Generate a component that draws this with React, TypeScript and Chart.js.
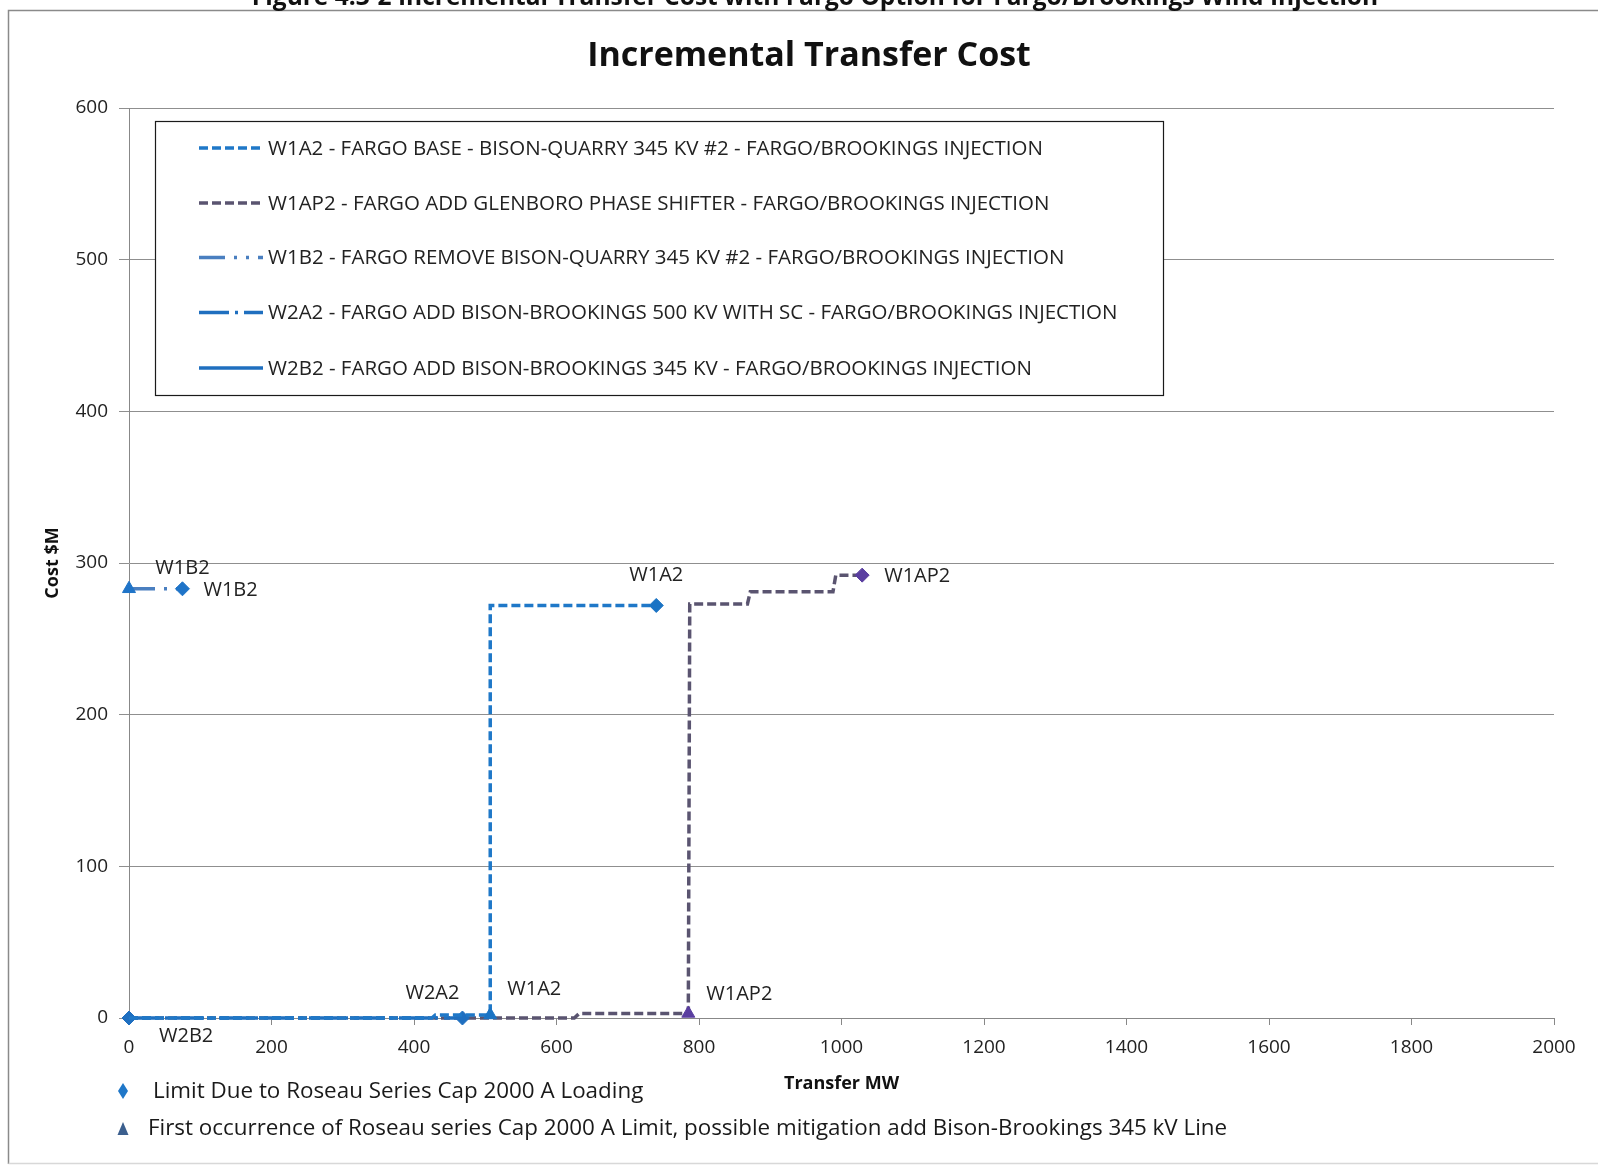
import React, { useEffect, useRef } from "react";
import { Chart, registerables } from "chart.js";

Chart.register(...registerables);

// ---------- data ----------
const xTickValues = [0, 200, 400, 600, 800, 1000, 1200, 1400, 1600, 1800, 2000];
const yTickValues = [0, 100, 200, 300, 400, 500, 600];

const w1a2X = [0, 425, 430, 507, 507, 740];
const w1a2Y = [0, 0, 2, 2, 272, 272];
const w1a2Marks = ["", "", "", "triangle", "", "diamond"];

const w1ap2X = [0, 625, 632, 785, 787, 868, 872, 988, 992, 1029];
const w1ap2Y = [0, 0, 3, 3, 273, 273, 281, 281, 292, 292];
const w1ap2Marks = ["", "", "", "triangle", "", "", "", "", "", "diamond"];

const w1b2X = [0, 75];
const w1b2Y = [283, 283];
const w1b2Marks = ["triangle", "diamond"];

const w2a2X = [0, 468];
const w2a2Y = [0, 0];
const w2a2Marks = ["", "diamond"];

const w2b2X = [0];
const w2b2Y = [0];
const w2b2Marks = ["diamond"];

const seriesNames = [
  "W1A2 - FARGO BASE - BISON-QUARRY 345 KV #2 - FARGO/BROOKINGS INJECTION",
  "W1AP2 - FARGO ADD GLENBORO PHASE SHIFTER - FARGO/BROOKINGS INJECTION",
  "W1B2 - FARGO REMOVE BISON-QUARRY 345 KV #2 - FARGO/BROOKINGS INJECTION",
  "W2A2 - FARGO ADD BISON-BROOKINGS 500 KV WITH SC - FARGO/BROOKINGS INJECTION",
  "W2B2 - FARGO ADD BISON-BROOKINGS 345 KV - FARGO/BROOKINGS INJECTION",
];

// point labels: text, data x, data y, pixel offset, alignment
const pointLabels = [
  { text: "W1B2", x: 75, y: 283, dx: 0, dy: -20, align: "center" },
  { text: "W1B2", x: 75, y: 283, dx: 21, dy: 2, align: "left" },
  { text: "W2B2", x: 0, y: 0, dx: 30, dy: 18, align: "left" },
  { text: "W2A2", x: 468, y: 0, dx: -30, dy: -25, align: "center" },
  { text: "W1A2", x: 507, y: 0, dx: 17, dy: -29, align: "left" },
  { text: "W1A2", x: 740, y: 272, dx: 0, dy: -30, align: "center" },
  { text: "W1AP2", x: 785, y: 0, dx: 18, dy: -24, align: "left" },
  { text: "W1AP2", x: 1029, y: 292, dx: 22, dy: 1, align: "left" },
];

const headerText =
  "Figure 4.3-2 Incremental Transfer Cost with Fargo Option for Fargo/Brookings Wind Injection";
const titleText = "Incremental Transfer Cost";
const xTitle = "Transfer MW";
const yTitle = "Cost $M";
const footnote1 = "Limit Due to Roseau Series Cap 2000 A Loading";
const footnote2 =
  "First occurrence of Roseau series Cap 2000 A Limit, possible mitigation add Bison-Brookings 345 kV Line";

// ---------- styles ----------
const FONT = "'Open Sans', 'DejaVu Sans', sans-serif";
const lineColors = ["#1f78c8", "#5a5470", "#4a7fc0", "#1f6fbf", "#1f6fbf"];
const markColors = ["#1a73c4", "#5a3ea0", "#1f74c8", "#1f6fc0", "#1f6fc0"];
const drawOrder = [0, 2, 0, 1, 0];
const dashes: number[][] = [
  [9, 4],
  [9, 4],
  [26, 9, 3, 9, 3, 9],
  [30, 6, 3, 6],
  [],
];

function build(xs: number[], ys: number[], marks: string[], i: number) {
  return {
    label: seriesNames[i],
    data: xs.map((x, k) => ({ x, y: ys[k] })),
    showLine: true,
    clip: false,
    order: drawOrder[i],
    borderColor: lineColors[i],
    borderWidth: 3.5,
    borderDash: dashes[i],
    pointStyle: marks.map((m) => (m === "diamond" ? "rectRot" : m === "triangle" ? "triangle" : "circle")),
    pointRadius: marks.map((m) => (m === "diamond" ? 7 : m === "triangle" ? 7.5 : 0)),
    pointBackgroundColor: markColors[i],
    pointBorderColor: markColors[i],
    pointBorderWidth: 1,
    pointHoverRadius: 0,
    tension: 0,
  };
}

const decorPlugin = {
  id: "decor",
  beforeDraw(chart: any) {
    const ctx = chart.ctx;
    ctx.save();
    ctx.fillStyle = "#ffffff";
    ctx.fillRect(0, 0, chart.width, chart.height);
    ctx.restore();
  },
  afterDraw(chart: any) {
    const ctx: CanvasRenderingContext2D = chart.ctx;
    const xs = chart.scales.x;
    const ys = chart.scales.y;
    const area = chart.chartArea;
    ctx.save();

    // frame
    ctx.strokeStyle = "#8a8a8a";
    ctx.lineWidth = 1.5;
    ctx.beginPath();
    ctx.moveTo(8.5, 1164);
    ctx.lineTo(8.5, 10.5);
    ctx.lineTo(1598, 10.5);
    ctx.stroke();
    ctx.strokeStyle = "#d8d8d8";
    ctx.beginPath();
    ctx.moveTo(8.5, 1163.5);
    ctx.lineTo(1598, 1163.5);
    ctx.stroke();

    // cut-off header
    ctx.fillStyle = "#111";
    ctx.font = `bold 24.5px ${FONT}`;
    ctx.textAlign = "center";
    ctx.textBaseline = "alphabetic";
    ctx.fillText(headerText, 815, 5);

    // title
    ctx.font = `bold 34px ${FONT}`;
    ctx.textBaseline = "middle";
    ctx.fillText(titleText, 809, 56);

    // axis titles
    ctx.font = `bold 18px ${FONT}`;
    ctx.fillText(xTitle, (area.left + area.right) / 2, 1084);
    ctx.save();
    ctx.translate(53, (area.top + area.bottom) / 2);
    ctx.rotate(-Math.PI / 2);
    ctx.fillText(yTitle, 0, 0);
    ctx.restore();

    // legend box
    const lx = 155, ly = 121, lw = 1008, lh = 274;
    ctx.fillStyle = "#ffffff";
    ctx.fillRect(lx, ly, lw, lh);
    ctx.strokeStyle = "#1a1a1a";
    ctx.lineWidth = 1.2;
    ctx.strokeRect(lx + 0.5, ly + 0.5, lw, lh);
    const rows = [148, 203, 257.5, 312.5, 368];
    ctx.font = `20.5px ${FONT}`;
    ctx.textAlign = "left";
    for (let i = 0; i < 5; i++) {
      const yy = rows[i];
      ctx.strokeStyle = lineColors[i];
      ctx.lineWidth = 3.5;
      ctx.setLineDash(dashes[i]);
      ctx.beginPath();
      ctx.moveTo(199, yy);
      ctx.lineTo(263, yy);
      ctx.stroke();
      ctx.setLineDash([]);
      ctx.fillStyle = "#222";
      ctx.fillText(seriesNames[i], 268, yy + 1);
    }

    // point labels
    ctx.font = `20px ${FONT}`;
    ctx.fillStyle = "#222";
    for (const p of pointLabels) {
      ctx.textAlign = p.align as CanvasTextAlign;
      ctx.fillText(p.text, xs.getPixelForValue(p.x) + p.dx, ys.getPixelForValue(p.y) + p.dy);
    }

    // footnotes
    ctx.fillStyle = "#1f77c8";
    ctx.beginPath();
    ctx.moveTo(123, 1083);
    ctx.lineTo(128, 1091);
    ctx.lineTo(123, 1099);
    ctx.lineTo(118, 1091);
    ctx.closePath();
    ctx.fill();
    ctx.fillStyle = "#3b5f8e";
    ctx.beginPath();
    ctx.moveTo(123, 1122);
    ctx.lineTo(128.5, 1135);
    ctx.lineTo(117.5, 1135);
    ctx.closePath();
    ctx.fill();
    ctx.fillStyle = "#1a1a1a";
    ctx.font = `22.4px ${FONT}`;
    ctx.textAlign = "left";
    ctx.fillText(footnote1, 153, 1092);
    ctx.fillText(footnote2, 148, 1129);

    ctx.restore();
  },
};

export default function App() {
  const ref = useRef<HTMLCanvasElement>(null);
  useEffect(() => {
    if (!ref.current) return;
    const chart = new Chart(ref.current, {
      type: "scatter",
      data: {
        datasets: [
          build(w1a2X, w1a2Y, w1a2Marks, 0),
          build(w1ap2X, w1ap2Y, w1ap2Marks, 1),
          build(w1b2X, w1b2Y, w1b2Marks, 2),
          build(w2a2X, w2a2Y, w2a2Marks, 3),
          build(w2b2X, w2b2Y, w2b2Marks, 4),
        ] as any,
      },
      options: {
        animation: false,
        responsive: true,
        maintainAspectRatio: false,
        layout: { padding: { top: 108, right: 48, bottom: 0, left: 0 } },
        plugins: {
          legend: { display: false },
          tooltip: { enabled: false },
          title: { display: false },
        },
        scales: {
          x: {
            type: "linear",
            min: 0,
            max: 2000,
            afterFit: (s: any) => {
              s.height = 148;
            },
            afterBuildTicks: (s: any) => {
              s.ticks = xTickValues.map((v) => ({ value: v }));
            },
            ticks: {
              font: { family: FONT, size: 19 },
              color: "#222",
              padding: 11,
              maxRotation: 0,
              callback: (v: any) => String(v),
            },
            grid: {
              drawOnChartArea: false,
              tickLength: 7,
              color: "#888",
            },
            border: { color: "#888", width: 1 },
          },
          y: {
            type: "linear",
            min: 0,
            max: 600,
            afterFit: (s: any) => {
              s.width = 129;
            },
            afterBuildTicks: (s: any) => {
              s.ticks = yTickValues.map((v) => ({ value: v }));
            },
            ticks: {
              font: { family: FONT, size: 19 },
              color: "#222",
              padding: 11,
              callback: (v: any) => String(v),
            },
            grid: {
              color: "#8f8f8f",
              tickLength: 10,
              lineWidth: 1,
            },
            border: { color: "#888", width: 1 },
          },
        },
      },
      plugins: [decorPlugin],
    });
    return () => chart.destroy();
  }, []);
  return (
    <div style={{ position: "fixed", left: 0, top: 0, width: 1602, height: 1166, background: "#fff" }}>
      <canvas ref={ref} />
    </div>
  );
}
